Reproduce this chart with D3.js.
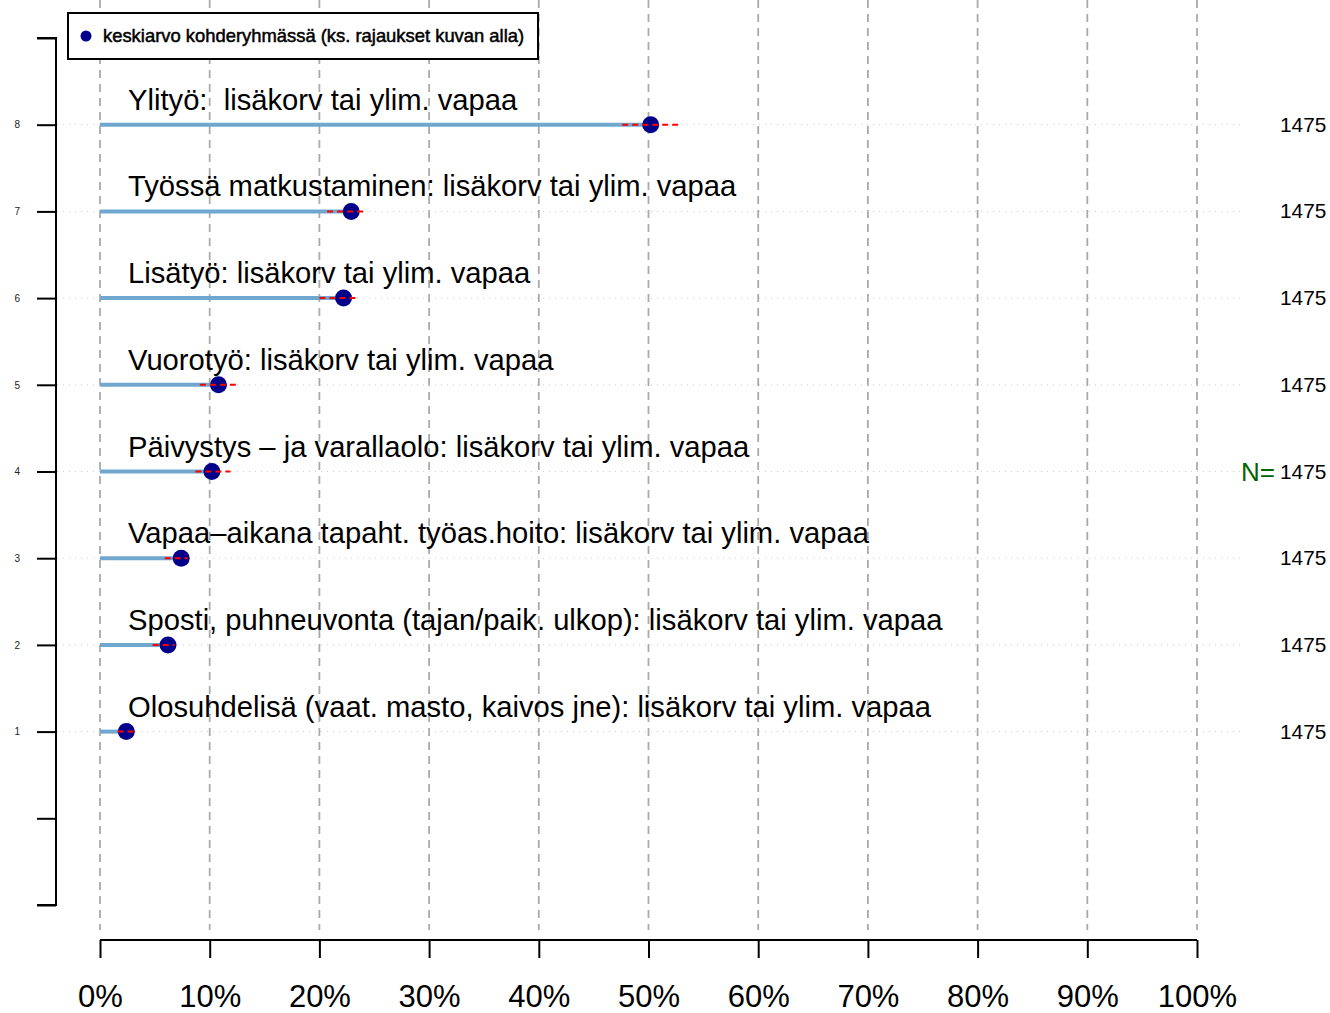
<!DOCTYPE html>
<html>
<head>
<meta charset="utf-8">
<script src="https://cdn.jsdelivr.net/npm/d3@7"></script>
<style>
  body { margin: 0; background: #fff; }
  text { font-family: "Liberation Sans", Arial, sans-serif; }
</style>
</head>
<body>
<div id="chart"></div>
<script>
var width = 1330,
    height = 1013;

// rows from top (8) to bottom (1)
var labels = [
  "Ylityö:  lisäkorv tai ylim. vapaa",
  "Työssä matkustaminen: lisäkorv tai ylim. vapaa",
  "Lisätyö: lisäkorv tai ylim. vapaa",
  "Vuorotyö: lisäkorv tai ylim. vapaa",
  "Päivystys – ja varallaolo: lisäkorv tai ylim. vapaa",
  "Vapaa–aikana tapaht. työas.hoito: lisäkorv tai ylim. vapaa",
  "Sposti, puhneuvonta (tajan/paik. ulkop): lisäkorv tai ylim. vapaa",
  "Olosuhdelisä (vaat. masto, kaivos jne): lisäkorv tai ylim. vapaa"
];
var rowPos = [8, 7, 6, 5, 4, 3, 2, 1];
var means = [50.2, 22.9, 22.2, 10.8, 10.2, 7.4, 6.2, 2.4];
var ciLow = [47.6, 20.7, 20.0, 9.1, 8.7, 5.9, 4.8, 1.6];
var ciHigh = [52.7, 24.2, 23.6, 12.5, 11.9, 8.0, 6.8, 3.2];
var nValues = [1475, 1475, 1475, 1475, 1475, 1475, 1475, 1475];
var xTicks = [0, 10, 20, 30, 40, 50, 60, 70, 80, 90, 100];
var yTicks = [-1, 0, 1, 2, 3, 4, 5, 6, 7, 8, 9];
var legendText = "keskiarvo kohderyhmässä (ks. rajaukset kuvan alla)";

var svg = d3.select("#chart")
    .append("svg")
    .attr("width", width)
    .attr("height", height);

var x = d3.scaleLinear().domain([0, 100]).range([100, 1197]);
var y = d3.scaleLinear().domain([-1, 9]).range([905, 38]);

// vertical grid
svg.append("g")
    .selectAll("line")
    .data(xTicks)
    .enter()
    .append("line")
    .attr("x1", d => x(d)).attr("x2", d => x(d))
    .attr("y1", 0).attr("y2", 930)
    .style("stroke", "#aaaaaa")
    .style("stroke-width", 1.8)
    .style("stroke-dasharray", "8,6");

// dotted row lines
svg.append("g")
    .selectAll("line")
    .data(rowPos)
    .enter()
    .append("line")
    .attr("x1", 57).attr("x2", 1240)
    .attr("y1", d => y(d)).attr("y2", d => y(d))
    .style("stroke", "#cccccc")
    .style("stroke-width", 1)
    .style("stroke-dasharray", "1,5");

// y axis
var yAxis = d3.axisLeft(y)
    .tickValues(yTicks)
    .tickSize(19)
    .tickPadding(17)
    .tickFormat(d => (d >= 1 && d <= 8) ? d : "");
var gy = svg.append("g")
    .attr("transform", "translate(56,0)")
    .call(yAxis);
gy.select(".domain").attr("d", "M-19," + y(9) + "H0V" + y(-1) + "H-19")
    .style("stroke-width", 2);
gy.selectAll(".tick line").style("stroke-width", 2);
gy.selectAll(".tick text")
    .style("font-size", "10px")
    .style("font-family", "Liberation Sans, Arial, sans-serif")
    .attr("fill", "#222");

// x axis
var xAxis = d3.axisBottom(x)
    .tickValues(xTicks)
    .tickSize(18)
    .tickPadding(27)
    .tickFormat(d => d + "%");
var gx = svg.append("g")
    .attr("transform", "translate(0,940)")
    .call(xAxis);
gx.select(".domain").attr("d", "M" + x(0) + ",0H" + x(100)).style("stroke-width", 2);
gx.selectAll(".tick line").style("stroke-width", 2);
gx.selectAll(".tick text")
    .style("font-size", "31px")
    .style("font-family", "Liberation Sans, Arial, sans-serif")
    .attr("fill", "#000");

// bars from 0 to mean
svg.append("g")
    .selectAll("line")
    .data(means)
    .enter()
    .append("line")
    .attr("x1", x(0))
    .attr("x2", d => x(d))
    .attr("y1", (d, i) => y(rowPos[i]))
    .attr("y2", (d, i) => y(rowPos[i]))
    .style("stroke", "#6fa7cf")
    .style("stroke-width", 4);

// mean dots
svg.append("g")
    .selectAll("circle")
    .data(means)
    .enter()
    .append("circle")
    .attr("cx", d => x(d))
    .attr("cy", (d, i) => y(rowPos[i]))
    .attr("r", 8.5)
    .style("fill", "#00008b");

// confidence intervals
svg.append("g")
    .selectAll("line")
    .data(ciLow)
    .enter()
    .append("line")
    .attr("x1", d => x(d))
    .attr("x2", (d, i) => x(ciHigh[i]))
    .attr("y1", (d, i) => y(rowPos[i]))
    .attr("y2", (d, i) => y(rowPos[i]))
    .style("stroke", "#ff0000")
    .style("stroke-width", 2)
    .style("stroke-dasharray", "6,4");

// row labels
svg.append("g")
    .selectAll("text")
    .data(labels)
    .enter()
    .append("text")
    .attr("x", 128)
    .attr("y", (d, i) => y(rowPos[i]) - 15)
    .style("font-size", "29.2px")
    .style("white-space", "pre")
    .attr("xml:space", "preserve")
    .text(d => d);

// N values
svg.append("g")
    .selectAll("text")
    .data(nValues)
    .enter()
    .append("text")
    .attr("x", 1280)
    .attr("y", (d, i) => y(rowPos[i]) + 7)
    .style("font-size", "20.8px")
    .text(d => d);

svg.append("text")
    .attr("x", 1241)
    .attr("y", y(4) + 9)
    .style("font-size", "26px")
    .style("fill", "#006400")
    .text("N=");

// legend
var legend = svg.append("g");
legend.append("rect")
    .attr("x", 68).attr("y", 13)
    .attr("width", 470).attr("height", 46)
    .style("fill", "#fff")
    .style("stroke", "#000")
    .style("stroke-width", 2);
legend.append("circle")
    .attr("cx", 86).attr("cy", 36).attr("r", 5.5)
    .style("fill", "#00008b");
legend.append("text")
    .attr("x", 103).attr("y", 42)
    .style("font-size", "18.4px")
    .style("stroke", "#000")
    .style("stroke-width", 0.5)
    .text(legendText);
</script>
</body>
</html>
